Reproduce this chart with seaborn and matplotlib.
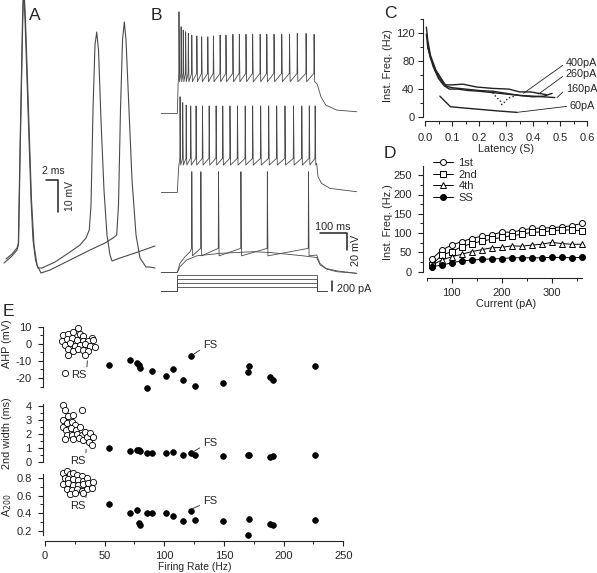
import matplotlib
matplotlib.use('Agg')
import matplotlib.pyplot as plt
import seaborn as sns
from matplotlib.ticker import FixedLocator

# ---------------- A: two superimposed action potentials (ms, mV)
a1_t = [0.67, 2.0, 2.83, 3.05, 3.33, 3.75, 3.92, 4.17, 4.67, 5.17, 5.5, 5.92, 6.33, 7.0, 9.17, 11.67,
        13.33, 14.33, 14.88, 15.17, 15.5, 15.83, 16.12, 16.42, 16.83, 17.33, 17.83, 18.33, 18.67, 20.0, 22.5, 25.83]
a1_v = [-60.94, -58.75, -56.88, -55.31, -25.63, 15.0, 25.94, 15.0, -13.13, -41.25, -53.75, -60.0, -62.5, -62.5,
        -60.63, -57.5, -55.31, -53.13, -50.63, -42.81, -13.13, 7.19, 11.25, 5.63, -16.25, -38.13, -52.19, -58.44,
        -60.31, -59.38, -57.81, -55.63]
a2_t = [1.0, 2.0, 2.83, 3.1, 3.38, 3.8, 3.97, 4.25, 4.75, 5.25, 5.67, 6.17, 6.83, 8.33, 11.67, 15.0, 17.5,
        18.83, 19.45, 19.75, 20.08, 20.42, 20.72, 21.0, 21.5, 22.0, 22.67, 23.33, 24.33, 25.0, 25.83]
a2_v = [-59.69, -58.13, -56.25, -54.69, -25.0, 15.63, 25.94, 15.0, -13.13, -41.25, -55.31, -61.56, -64.06,
        -63.13, -60.0, -56.88, -54.69, -53.13, -52.19, -42.81, -13.13, 8.75, 14.38, 8.75, -13.13, -35.0, -52.19,
        -59.38, -62.19, -62.19, -62.5]

# ---------------- B: spike trains (ms from step onset, mV above rest)
b1_spikes = [6, 14, 22, 31, 41, 54, 73, 91, 114, 135, 160, 182, 208, 232, 257, 282, 310, 335, 362, 391,
             420, 449, 482, 512]
b1_peaks = [122, 104, 100, 98, 96, 94, 93, 92, 92, 93, 94, 94, 95, 95, 95, 95, 95, 95, 95, 95, 95, 96, 96, 95]
b1_tail_t = [522, 525, 538, 556, 597, 672]
b1_tail_v = [36, 34, 20, 10, 4, 2]

b2_spikes = [10, 20, 33, 50, 70, 94, 119, 145, 170, 197, 225, 254, 282, 312, 342, 372, 403, 435, 466, 494, 516]
b2_peaks = [115, 108, 105, 104, 104, 104, 104, 104, 104, 104, 104, 104, 104, 104, 104, 104, 104, 104, 104, 104, 104]
b2_tail_t = [522, 527, 540, 572, 672]
b2_tail_v = [35, 19, 11, 5, 1]

b3_spikes = [54, 88, 154, 238, 337, 491]
b3_peaks = [121, 121, 121, 121, 121, 121]
b3_tail_t = [522, 534, 556, 597, 672]
b3_tail_v = [21, 11, 5, 2, -1]
b3_sub_t = [-60, 0, 10, 35, 73, 160, 285, 347, 410, 472, 522, 535, 560, 597, 672]
b3_sub_v = [0, 0, 7, 15, 20, 23, 25, 24, 22, 20, 18, 9, 4, 1, -1]

b_steps_pA = [75, 155, 235, 320]

# ---------------- C: instantaneous frequency vs latency
c_t400 = [0.005, 0.01, 0.02, 0.04, 0.06, 0.075, 0.1, 0.14, 0.19, 0.25, 0.31, 0.35, 0.39, 0.45]
c_f400 = [128, 110, 88, 67, 55, 46, 46, 47, 43, 41, 40, 36, 36, 32]
c_t260 = [0.005, 0.01, 0.02, 0.04, 0.06, 0.08, 0.1, 0.15, 0.2, 0.25, 0.3, 0.35, 0.4, 0.44, 0.47]
c_f260 = [118, 100, 84, 66, 52, 44, 42, 40, 38, 37, 34, 31, 29, 30, 34]
c_t160 = [0.01, 0.03, 0.05, 0.07, 0.09, 0.12, 0.16, 0.2, 0.25, 0.3, 0.35, 0.4, 0.44, 0.48]
c_f160 = [100, 72, 55, 45, 40, 40, 38, 37, 35, 33, 31, 30, 29, 28]
c_dip_t = [0.25, 0.265, 0.277, 0.284, 0.296, 0.304, 0.314, 0.33]
c_dip_f = [35, 28, 24, 18, 22, 26, 28, 30]
c_t60 = [0.055, 0.094, 0.15, 0.21, 0.27, 0.34]
c_f60 = [30, 15, 13, 11, 9, 7]

# ---------------- D: frequency vs injected current
d_current = [60, 80, 100, 120, 140, 160, 180, 200, 220, 240, 260, 280, 300, 320, 340, 360]
d_1st = [33, 56, 69, 78, 86, 92, 95, 103, 102, 108, 112, 113, 114, 116, 119, 125]
d_2nd = [17, 43, 52, 65, 73, 79, 84, 89, 93, 97, 102, 103, 106, 108, 108, 106]
d_4th = [17, 30, 39, 45, 52, 57, 62, 63, 67, 66, 69, 71, 76, 73, 71, 71]
d_ss = [13, 17, 23, 28, 30, 32, 33, 34, 36, 36, 36, 36, 37, 37, 36, 37]

# ---------------- E: RS (open) and FS (filled) cells
rs_rate_ahp = [27.9, 15.4, 19.6, 23.8, 29.3, 32.1, 39.1, 14.0, 18.2, 22.4, 26.6, 32.1, 36.3, 40.5, 16.8,
               21.0, 25.1, 29.3, 33.5, 37.7, 41.9, 19.6, 23.8, 27.9, 32.1, 36.3, 19.6, 33.5, 16.8]
rs_ahp = [9.2, 5.3, 5.7, 6.7, 5.7, 4.7, 3.3, 1.8, 2.7, 3.3, 2.2, 1.8, 1.4, 2.2, -0.6,
          0.2, -1.2, -0.6, -0.2, -1.2, -2.1, -3.1, -4.1, -3.1, -3.7, -4.5, -6.4, -6.4, -17.3]
rs_rate_width = [15.4, 16.8, 31.3, 15.4, 19.6, 23.8, 14.8, 18.7, 22.4, 25.2, 17.6, 21.5, 26.0, 29.4, 18.2,
                 22.4, 26.6, 30.8, 33.6, 16.8, 23.8, 28.8, 32.2, 35.0, 37.7, 40.5, 37.2, 39.1]
rs_width = [4.1, 3.78, 3.78, 3.03, 3.28, 3.41, 2.54, 2.79, 2.91, 2.66, 2.29, 2.41, 2.29, 2.54, 1.92,
            1.97, 2.04, 1.92, 2.16, 1.67, 1.67, 1.72, 1.54, 1.79, 2.11, 1.79, 1.42, 1.22]
rs_rate_a200 = [15.4, 18.2, 21.0, 23.8, 26.6, 30.8, 16.8, 19.6, 23.2, 28.0, 32.2, 35.0, 15.4, 19.6, 23.8,
                28.0, 32.2, 36.4, 40.0, 18.2, 22.4, 26.6, 30.8, 35.0, 39.1, 21.0, 25.2, 32.2]
rs_a200 = [0.854, 0.88, 0.84, 0.854, 0.83, 0.82, 0.80, 0.785, 0.785, 0.777, 0.765, 0.80, 0.727, 0.738, 0.715,
           0.715, 0.727, 0.738, 0.754, 0.677, 0.66, 0.677, 0.65, 0.677, 0.688, 0.623, 0.63, 0.63]

fs_rate = [54, 71, 77, 79, 79.5, 85.5, 90, 101.5, 107, 116, 122, 126, 149, 170, 171, 188.5, 191, 226.5]
fs_ahp = [-12.6, -9.5, -11, -12.4, -14.4, -26, -16, -18.6, -15, -21, -7, -24.7, -22.7, -16.7, -13, -19.6, -21.4, -13.2]
fs_width = [1.0, 0.78, 0.85, 0.88, 0.8, 0.65, 0.62, 0.65, 0.72, 0.5, 0.62, 0.45, 0.38, 0.45, 0.48, 0.35, 0.4, 0.48]
fs_a200 = [0.50, 0.40, 0.44, 0.29, 0.26, 0.40, 0.40, 0.40, 0.37, 0.31, 0.42, 0.32, 0.31, 0.15, 0.33, 0.28, 0.26, 0.32]

sns.set_style('ticks')
plt.rcParams['font.family'] = ['Liberation Sans', 'DejaVu Sans']
plt.rcParams['axes.unicode_minus'] = False
plt.rcParams['axes.linewidth'] = 0.8

W, H = 597, 573
fig = plt.figure(figsize=(W / 100, H / 100), dpi=100)
INK = '#222222'
TRACE = '#4a4a4a'
EY = -4  # panel E nudged up so its axis title stays inside the canvas


def box(left, right, top, bottom):
    return fig.add_axes([left / W, 1 - bottom / H, (right - left) / W, (bottom - top) / H])


def xl(left, right, p0, v0, ppu):
    return (v0 + (left - p0) / ppu, v0 + (right - p0) / ppu)


def yl(top, bottom, p0, v0, ppu):
    return (v0 - (bottom - p0) / ppu, v0 + (p0 - top) / ppu)


def ftext(x, y, s, **kw):
    fig.text(x / W, 1 - y / H, s, **kw)


def style(ax, left_out, bottom_out, xpad, ypad):
    sns.despine(ax=ax)
    ax.spines['left'].set_position(('outward', left_out))
    ax.spines['bottom'].set_position(('outward', bottom_out))
    ax.tick_params(which='major', direction='out', length=3.6, width=0.8, labelsize=8, color=INK)
    ax.tick_params(which='minor', direction='out', length=2.2, width=0.7, color=INK)
    ax.tick_params(axis='x', pad=xpad)
    ax.tick_params(axis='y', pad=ypad)
    ax.set_facecolor('none')


def draw(ax, t, v, **kw):
    sns.lineplot(x=t, y=v, ax=ax, sort=False, estimator=None, legend=False, **kw)


def train(spikes, peaks, thr, trough, rise_t, rise_v, tail_t, tail_v):
    t = [-60, 0] + rise_t
    v = [0, 0] + rise_v
    for s, p in zip(spikes, peaks):
        t += [s - 0.6, s + 0.3, s + 2.5]
        v += [thr, p, trough]
    return t + tail_t, v + tail_v


# ---------------- panel A
axA = box(0, 165, 0, 290)
axA.set_xlim(*xl(0, 165, 0, 0, 6))
axA.set_ylim(*yl(0, 290, 260, -60, 3.2))
axA.axis('off')
draw(axA, a1_t, a1_v, color=TRACE, lw=0.8)
draw(axA, a2_t, a2_v, color=TRACE, lw=0.8)
axA.plot([7.67, 9.67, 9.67], [-35, -35, -45], color=INK, lw=1.1)
axA.text(8.9, -33.6, '2 ms', ha='center', va='bottom', fontsize=7.5)
axA.text(11.7, -40, '10 mV', ha='center', va='center', rotation=90, fontsize=7.5)

# ---------------- panel B
axB = box(158, 372, 0, 300)
axB.set_xlim(*xl(158, 372, 177.3, 0, 0.267))
axB.set_ylim(*yl(0, 300, 300, 0, 0.833))
axB.axis('off')
for (sp, pk, thr, tr, rt, rv, tt, tv), off in zip(
        [(b1_spikes, b1_peaks, 48, 38, [3], [35], b1_tail_t, b1_tail_v),
         (b2_spikes, b2_peaks, 41, 33, [5], [30], b2_tail_t, b2_tail_v),
         (b3_spikes, b3_peaks, 29, 20, [10, 29, 48], [11, 19, 25], b3_tail_t, b3_tail_v)],
        [224, 129, 33]):
    t, v = train(sp, pk, thr, tr, rt, rv, tt, tv)
    draw(axB, t, [off + x for x in v], color=TRACE, lw=0.6)
draw(axB, b3_sub_t, [33 + x for x in b3_sub_v], color=TRACE, lw=0.6)
axB.plot([534.5, 634.5, 634.5], [80, 80, 60], color=INK, lw=1.1)
axB.text(584, 81.5, '100 ms', ha='center', va='bottom', fontsize=7.8)
axB.text(668, 60, '20 mV', ha='center', va='center', rotation=90, fontsize=7.8)

axI = box(158, 372, 262, 300)
axI.set_xlim(*xl(158, 372, 177.3, 0, 0.267))
axI.set_ylim(*yl(262, 300, 291, 0, 0.05))
axI.axis('off')
for amp in b_steps_pA:
    draw(axI, [-60, 0, 0, 522, 522, 560], [0, 0, amp, amp, 0, 0], color=TRACE, lw=0.6)
axI.plot([580.5, 580.5], [0, 200], color=INK, lw=1.1)
axI.text(598, 40, '200 pA', ha='left', va='center', fontsize=7.8)

# ---------------- panel C
axC = box(425, 592, 15, 117.3)
axC.set_xlim(*xl(425, 592, 425, 0, 270.5))
axC.set_ylim(*yl(15, 117.3, 117.3, 0, 0.705))
style(axC, 1.5, 2.5, 5, 2.5)
axC.spines['left'].set_bounds(0, 140)
axC.spines['bottom'].set_bounds(0, 0.6)
axC.yaxis.set_major_locator(FixedLocator([0, 40, 80, 120]))
axC.yaxis.set_minor_locator(FixedLocator([20, 60, 100, 140]))
axC.xaxis.set_major_locator(FixedLocator([0, 0.1, 0.2, 0.3, 0.4, 0.5, 0.6]))
axC.xaxis.set_minor_locator(FixedLocator([0.05, 0.15, 0.25, 0.35, 0.45, 0.55]))
axC.set_xticklabels(['0.0', '0.1', '0.2', '0.3', '0.4', '0.5', '0.6'])
for t, f in [(c_t400, c_f400), (c_t260, c_f260), (c_t160, c_f160), (c_t60, c_f60)]:
    draw(axC, t, f, color=INK, lw=1.0)
draw(axC, c_dip_t, c_dip_f, color=INK, lw=1.0, linestyle=(0, (1, 1.6)))
for lab, xy, ty in [('400pA', (0.364, 34), 63), ('260pA', (0.42, 33), 74),
                    ('160pA', (0.488, 28), 89), ('60pA', (0.34, 7), 106)]:
    axC.annotate(lab, xy=xy, xytext=(566 if lab != '60pA' else 570, H - ty), textcoords='figure pixels',
                 ha='left', va='center', fontsize=7.8,
                 arrowprops=dict(arrowstyle='-', lw=0.6, color=INK, shrinkA=0, shrinkB=0, relpos=(0, 0.5)))
axC.set_xlabel('')
axC.set_ylabel('')

# ---------------- panel D
axD = box(426.7, 592, 165.6, 271.7)
axD.set_xlim(*xl(426.7, 592, 451.7, 100, 0.5))
axD.set_ylim(*yl(165.6, 271.7, 271.7, 0, 0.386))
style(axD, 2.5, 4.3, 3.5, 4.5)
axD.spines['left'].set_bounds(0, 275)
axD.spines['bottom'].set_bounds(50, 360)
axD.yaxis.set_major_locator(FixedLocator([0, 50, 100, 150, 200, 250]))
axD.yaxis.set_minor_locator(FixedLocator([25, 75, 125, 175, 225, 275]))
axD.xaxis.set_major_locator(FixedLocator([100, 200, 300]))
axD.xaxis.set_minor_locator(FixedLocator([50, 150, 250, 350]))
for lab, vals, mk, face in [('1st', d_1st, 'o', 'white'), ('2nd', d_2nd, 's', 'white'),
                            ('4th', d_4th, '^', 'white'), ('SS', d_ss, 'o', 'black')]:
    sns.lineplot(x=d_current, y=vals, ax=axD, color='black', lw=0.7, marker=mk, markersize=4.3,
                 markerfacecolor=face, markeredgecolor='black', markeredgewidth=0.7, label=lab, clip_on=False)
axD.legend(loc='upper left', bbox_to_anchor=(433 / W, 1 - 158 / H), bbox_transform=fig.transFigure,
           frameon=False, fontsize=8, handlelength=1.8, handletextpad=0.5, labelspacing=0.15,
           borderpad=0, borderaxespad=0)
axD.set_xlabel('')
axD.set_ylabel('')

# ---------------- panel E
ex = xl(45, 350, 45, 0, 1.193)
axE1 = box(45, 350, 328 + EY, 395 + EY)
axE2 = box(45, 350, 402 + EY, 466 + EY)
axE3 = box(45, 350, 474 + EY, 545 + EY)
axE1.set_ylim(*yl(328, 395, 330.7, 10, 1.71))
axE2.set_ylim(*yl(402, 466, 465.7, 0, 13.8))
axE3.set_ylim(*yl(474, 545, 482, 0.8, 87.8))
for ax, rr, rv, fv in [(axE1, rs_rate_ahp, rs_ahp, fs_ahp), (axE2, rs_rate_width, rs_width, fs_width),
                       (axE3, rs_rate_a200, rs_a200, fs_a200)]:
    ax.set_xlim(*ex)
    style(ax, 1.5, 0, 3.5, 4.5)
    sns.scatterplot(x=rr, y=rv, ax=ax, s=20, color='white', edgecolor='black', linewidth=0.6,
                    clip_on=False, legend=False)
    sns.scatterplot(x=fs_rate, y=fv, ax=ax, s=17, color='black', edgecolor='black', linewidth=0.5,
                    clip_on=False, legend=False)
for ax in (axE1, axE2):
    ax.spines['bottom'].set_visible(False)
    ax.set_xticks([])
axE1.spines['left'].set_bounds(-25, 10)
axE1.yaxis.set_major_locator(FixedLocator([-20, -10, 0, 10]))
axE1.yaxis.set_minor_locator(FixedLocator([-25, -15, -5, 5]))
axE2.spines['left'].set_bounds(0, 4.2)
axE2.yaxis.set_major_locator(FixedLocator([0, 1, 2, 3, 4]))
axE2.yaxis.set_minor_locator(FixedLocator([0.5, 1.5, 2.5, 3.5]))
axE3.spines['left'].set_bounds(0.15, 0.85)
axE3.yaxis.set_major_locator(FixedLocator([0.2, 0.4, 0.6, 0.8]))
axE3.yaxis.set_minor_locator(FixedLocator([0.3, 0.5, 0.7]))
axE3.spines['bottom'].set_bounds(0, 250)
axE3.xaxis.set_major_locator(FixedLocator([0, 50, 100, 150, 200, 250]))
axE3.xaxis.set_minor_locator(FixedLocator([25, 75, 125, 175, 225]))

ann = dict(arrowstyle='-', lw=0.6, color=INK, shrinkA=0, shrinkB=0)
for ax, rs_xy, rs_txt, fs_xy, fs_txt in [
        (axE1, (35.5, -9.9), (79, 379), (123.5, -6.6), (210, 349)),
        (axE2, (34.5, 0.9), (78, 465), (123.5, 0.68), (210, 447)),
        (axE3, (34.5, 0.61), (78, 510), (123.5, 0.45), (210, 505))]:
    ax.annotate('RS', xy=rs_xy, xytext=(rs_txt[0], H - rs_txt[1] - EY), textcoords='figure pixels',
                ha='center', va='center', fontsize=8, arrowprops=dict(ann, relpos=(1, 1)))
    ax.annotate('FS', xy=fs_xy, xytext=(fs_txt[0], H - fs_txt[1] - EY), textcoords='figure pixels',
                ha='center', va='center', fontsize=8, arrowprops=dict(ann, relpos=(0, 0.2)))
    ax.set_xlabel('')
    ax.set_ylabel('')

# ---------------- labels
ftext(388, 66, 'Inst. Freq. (Hz)', rotation=90, ha='center', va='center', fontsize=7.8)
ftext(506, 149, 'Latency (S)', ha='center', va='center', fontsize=7.8)
ftext(388, 222, 'Inst. Freq. (Hz.)', rotation=90, ha='center', va='center', fontsize=7.8)
ftext(506, 304, 'Current (pA)', ha='center', va='center', fontsize=7.8)
ftext(7, 348 + EY, 'AHP (mV)', rotation=90, ha='center', va='center', fontsize=7.8)
ftext(7, 437 + EY, '2nd width (ms)', rotation=90, ha='center', va='center', fontsize=7.8)
ftext(7, 509 + EY, r'A$_{200}$', rotation=90, ha='center', va='center', fontsize=7.8)
ftext(195, 567.2, 'Firing Rate (Hz)', ha='center', va='center', fontsize=7.5)
for letter, x, y in [('A', 35, 15.5), ('B', 156, 15.5), ('C', 390, 14), ('D', 390, 153), ('E', 8, 316 + EY)]:
    ftext(x, y, letter, ha='center', va='center', fontsize=12.5)

fig.savefig('out.png', dpi=100)
